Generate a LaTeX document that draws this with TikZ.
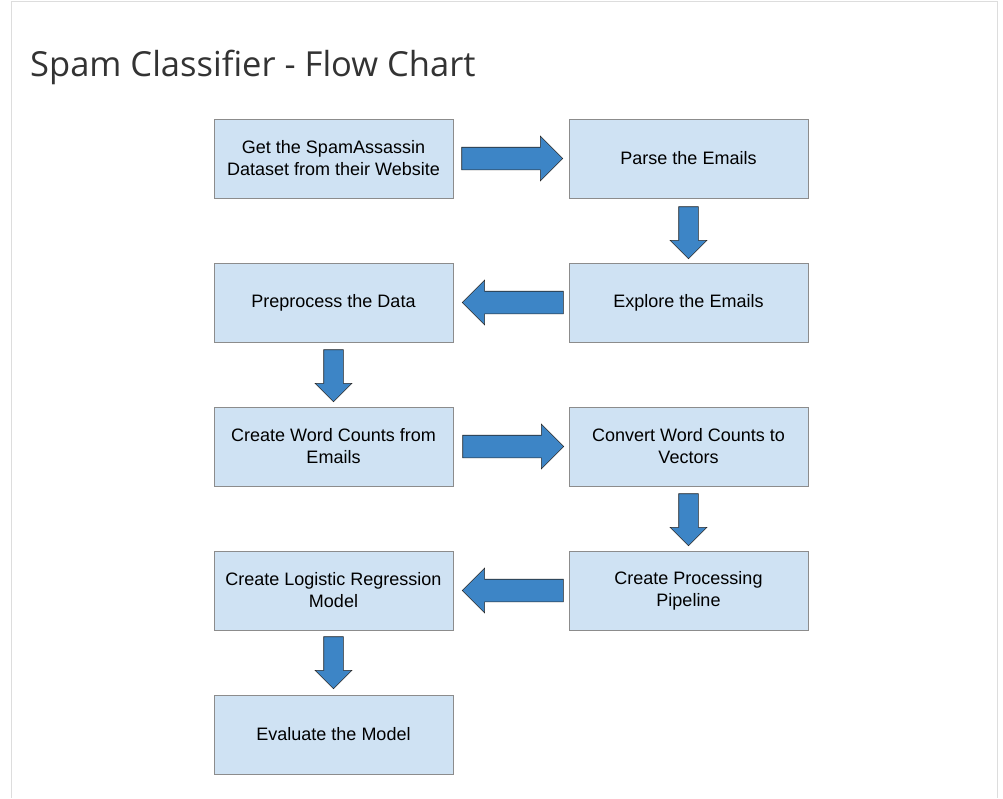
\documentclass[tikz,border=0pt]{standalone}
\usepackage{fontspec}
\setmainfont{Liberation Sans}
\newfontfamily\titlefont{Open Sans}
\usepackage{xcolor}
\usetikzlibrary{shapes.arrows,positioning,calc}
\definecolor{boxblue}{HTML}{CFE2F3}
\definecolor{arrowblue}{HTML}{3D85C6}
\definecolor{boxline}{HTML}{8C8C8C}
\definecolor{frameline}{HTML}{DDDDDD}
\definecolor{titlegrey}{HTML}{333333}

\begin{document}
\begin{tikzpicture}[x=1pt,y=-1pt,
   stepbox/.style={draw=boxline,fill=boxblue,align=center,inner sep=0pt,line width=0.8pt,
     minimum width=239pt,minimum height=79pt,font=\fontsize{18}{22}\selectfont},
   harrow/.style={single arrow,draw=black!85,fill=arrowblue,inner xsep=0pt,inner ysep=11pt,line width=0.6pt,
     minimum height=101pt,minimum width=44pt,single arrow head extend=11pt,single arrow tip angle=90,anchor=tail},
   varrow/.style={harrow,inner xsep=9.5pt,inner ysep=0pt,minimum height=52pt,minimum width=36pt,
     single arrow head extend=8.5pt,shape border rotate=270}]
  \useasboundingbox (0,0) rectangle (1003,798);
  \fill[white] (0,0) rectangle (1003,798);
  \draw[frameline,line width=1pt] (11,798) -- (11,1) -- (997,1) -- (997,798);
  \node[anchor=base west,inner sep=0pt,text=titlegrey,font=\titlefont\fontsize{34.5}{40}\selectfont] (title) at (30,76) {Spam Classifier - Flow Chart};
  % steps
  \node[stepbox] (get) at (333.5,158.5) {Get the SpamAssassin\\Dataset from their Website};
  \node[stepbox] (parse) at (688.5,158.5) {Parse the Emails};
  \node[stepbox] (explore) at (688.5,302.5) {Explore the Emails};
  \node[stepbox] (prep) at (333.5,302.5) {Preprocess the Data};
  \node[stepbox] (counts) at (333.5,446.5) {Create Word Counts from\\Emails};
  \node[stepbox] (vectors) at (688.5,446.5) {Convert Word Counts to\\Vectors};
  \node[stepbox] (pipe) at (688.5,590.5) {Create Processing\\Pipeline};
  \node[stepbox] (logreg) at (333.5,590.5) {Create Logistic Regression\\Model};
  \node[stepbox] (eval) at (333.5,734.5) {Evaluate the Model};
  % block arrows
  \node[harrow] (a1) at ($(get.east)+(8,0)$) {};
  \node[varrow] (a2) at ($(parse.south)+(0,8)$) {};
  \node[harrow,shape border rotate=180] (a3) at ($(explore.west)+(-5,0)$) {};
  \node[varrow] (a4) at ($(prep.south)+(0,7)$) {};
  \node[harrow] (a5) at ($(counts.east)+(9,0)$) {};
  \node[varrow] (a6) at ($(vectors.south)+(0,7)$) {};
  \node[harrow,shape border rotate=180] (a7) at ($(pipe.west)+(-5,0)$) {};
  \node[varrow] (a8) at ($(logreg.south)+(0,6)$) {};
\end{tikzpicture}
\end{document}
